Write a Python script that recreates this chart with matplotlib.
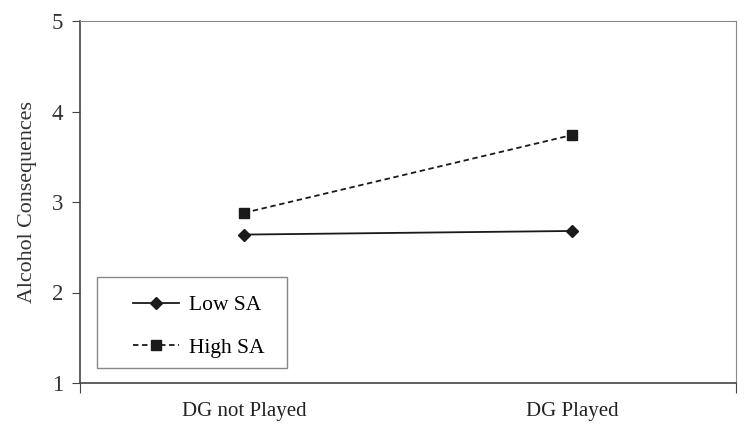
import matplotlib
matplotlib.use("Agg")
import matplotlib.pyplot as plt
from matplotlib.patches import Rectangle

categories = ["DG not Played", "DG Played"]
low_sa = [2.64, 2.68]
high_sa = [2.88, 3.74]
yticks = [1, 2, 3, 4, 5]

plt.rcParams['font.family'] = ['Liberation Serif', 'DejaVu Serif']

W, H = 751, 434
fig = plt.figure(figsize=(W/100, H/100), dpi=100)
ax = fig.add_axes([80/W, 1 - 383/H, (736-80)/W, (383-21)/H])

x = list(range(len(categories)))
ax.plot(x, low_sa, color='#1a1a1a', lw=1.3, ls='-', marker='D', ms=6, label='Low SA')
ax.plot(x, high_sa, color='#1a1a1a', lw=1.3, ls=(0, (3, 2)), marker='s', ms=7, label='High SA')

ax.set_xlim(-0.5, 1.5)
ax.set_ylim(1, 5)
ax.set_yticks(yticks)
ax.set_yticklabels([str(t) for t in yticks], fontsize=16.5, color='#333333')
ax.set_xticks([-0.5, 1.5])
ax.set_xticklabels([])
ax.set_xticks(x, minor=True)
ax.set_xticklabels(categories, minor=True, fontsize=15, color='#222222')
ax.tick_params(axis='x', which='minor', length=0, pad=14)
ax.tick_params(axis='x', which='major', length=7, color='#444444', direction='out')
ax.tick_params(axis='y', length=6, color='#444444', direction='out', pad=6)
for side in ['top', 'right']:
    ax.spines[side].set_color('#888888')
for side in ['left', 'bottom']:
    ax.spines[side].set_color('#444444')
    ax.spines[side].set_linewidth(1.2)
ax.set_ylabel('Alcohol Consequences', fontsize=15.8, color='#333333', labelpad=11)

# legend frame
fig.add_artist(Rectangle((97/W, 1 - 368/H), (287-97)/W, (368-277)/H, transform=fig.transFigure,
                         facecolor='white', edgecolor='#888888', lw=1.0, zorder=5))
leg = fig.legend(*ax.get_legend_handles_labels(), loc='center left',
                 bbox_to_anchor=(133/W, 1 - 326.5/H), fontsize=15.5, frameon=False,
                 handlelength=2.15, labelspacing=1.05, borderpad=0, borderaxespad=0,
                 handletextpad=0.45)
leg.set_zorder(6)

fig.savefig('out.png', dpi=100)
